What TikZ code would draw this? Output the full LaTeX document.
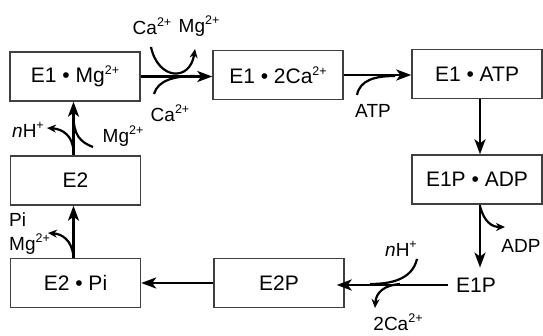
\documentclass[tikz,border=0pt]{standalone}
\usepackage{fontspec}
\setmainfont{Liberation Sans}
\usetikzlibrary{arrows.meta}
\newcommand\chg[1]{\raisebox{0.75ex}{\fontsize{12.5}{13}\selectfont #1}}
\begin{document}
\begin{tikzpicture}[x=1pt,y=-1pt,
 box/.style={draw=black!75, line width=1.4pt, minimum width=130pt, minimum height=49pt, inner sep=0pt, font=\fontsize{21}{24}\selectfont},
 lbl/.style={font=\fontsize{19}{21}\selectfont, inner sep=0pt},
 main/.style={line width=2.5pt, -{Stealth[length=15pt,width=11pt,inset=4pt]}},
 side/.style={line width=2.2pt, -{Stealth[length=9pt,width=8pt]}},
 feed/.style={line width=2.2pt}]
\useasboundingbox (0,0) rectangle (543,336);
% boxes
\node[box] (mg) at (75,76.5) {E1 • Mg\chg{2+}};
\node[box] (ca) at (278,75) {E1 • 2Ca\chg{2+}};
\node[box] (atp) at (477,74) {E1 • ATP};
\node[box] (adp) at (477,179.5) {E1P • ADP};
\node[font=\fontsize{21}{24}\selectfont, inner sep=0pt] (e1p) at (476,285) {E1P};
\node[box] (e2p) at (279,283) {E2P};
\node[box] (e2pi) at (75.5,283) {E2 • Pi};
\node[box] (e2) at (75.5,180.5) {E2};
% main arrows
\draw[main] (mg.east) -- (mg.east -| ca.west);
\draw[main] (ca.east) -- (ca.east -| atp.west);
\draw[main] ([xshift=3pt]atp.south) -- ([xshift=3pt]atp.south |- adp.north);
\draw[main] ([xshift=3pt]adp.south) -- ([xshift=3pt,yshift=10pt]adp.south |- e1p.north);
\draw[main] ([xshift=-8pt]e1p.west) -- ([xshift=-8pt]e1p.west -| e2p.east);
\draw[main] (e2p.west) -- (e2p.west -| e2pi.east);
\draw[main] ([xshift=-2pt]e2pi.north) -- ([xshift=-2pt]e2.south);
\draw[main] ([xshift=-2pt]e2.north) -- ([xshift=-2pt]e2.north |- mg.south);
% labels
\node[lbl] (tca) at (152,26) {Ca\chg{2+}};
\node[lbl] (tmg) at (199,26) {Mg\chg{2+}};
\node[lbl] (bca) at (170,113) {Ca\chg{2+}};
\node[lbl] (latp) at (373,111) {ATP};
\node[lbl] (ladp) at (521,246) {ADP};
\node[lbl] (lnh) at (401,249) {\textit{n}H\chg{+}};
\node[lbl] (l2ca) at (398,322) {2Ca\chg{2+}};
\node[lbl,anchor=west] (lpi) at (9,220) {Pi};
\node[lbl,anchor=west] (lmg2) at (9,244) {Mg\chg{2+}};
\node[lbl] (lnh2) at (28,130) {\textit{n}H\chg{+}};
\node[lbl] (lmg3) at (123,136) {Mg\chg{2+}};
% side curves
\draw[side] (151,47) .. controls (158,80) and (190,82) .. (195,49);
\draw[feed] (154,94) .. controls (158,80) and (175,76) .. (195,76);
\draw[feed] (357,95) .. controls (360,80) and (375,76) .. (395,76);
\draw[side] (480,206) .. controls (484,222) and (492,227) .. (505,227);
\draw[feed] (417,259) .. controls (412,280) and (390,284) .. (370,284);
\draw[side] (400,284) .. controls (385,285) and (376,292) .. (375,308);
\draw[side] (73.5,257) .. controls (72,240) and (62,234) .. (48,233);
\draw[side] (73.5,152) .. controls (73,135) and (62,129) .. (47,128);
\draw[feed] (93,147) .. controls (80,142) and (73.5,135) .. (73.5,115);
\end{tikzpicture}
\end{document}
